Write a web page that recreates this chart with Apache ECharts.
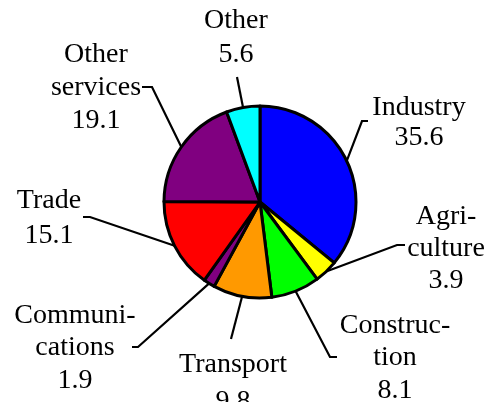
<!DOCTYPE html>
<html lang="en">
<head>
    <meta charset="UTF-8">
    <title>Sectors pie</title>
    <style type="text/css">
        html, body { margin: 0; padding: 0; background: #fff; }
        #main { height: 402px; width: 494px; }
    </style>
    <script src="https://cdn.jsdelivr.net/npm/echarts@6/dist/echarts.min.js"></script>
</head>
<body>
    <div id="main"></div>
    <script type="text/javascript">
        // sectors, clockwise from 12 o'clock
        var sectors = ['Industry', 'Agri-\nculture', 'Construc-\ntion', 'Transport', 'Communi-\ncations', 'Trade', 'Other\nservices', 'Other'];
        var shares = [35.6, 3.9, 8.1, 9.8, 1.9, 15.1, 19.1, 5.6];
        var colors = ['#0000ff', '#ffff00', '#00ff00', '#ff9900', '#800080', '#ff0000', '#800080', '#00ffff'];

        // label block centre, line height and leader bends (pixel layout)
        var labelPos = [
            { x: 419, y: 122.5, lh: 30.6, line: [[362, 121], [368, 121]] },
            { x: 446, y: 248.5, lh: 32.2, line: [[397, 245], [405, 245]] },
            { x: 395, y: 358, lh: 32.5, line: [[330, 357], [337, 357]] },
            { x: 233, y: 383, lh: 37.4, line: [[231, 339]] },
            { x: 75, y: 348, lh: 32.5, line: [[138, 347], [132, 347]] },
            { x: 49, y: 218, lh: 34.4, line: [[90, 217], [83, 217]] },
            { x: 96, y: 88, lh: 33, line: [[152, 87], [142, 87]] },
            { x: 236, y: 37.5, lh: 34.4, line: [[237, 77]] }
        ];

        var myChart = echarts.init(document.getElementById('main'));
        var option = {
            animation: false,
            series: [{
                type: 'pie',
                center: [260, 202],
                radius: 96,
                startAngle: 90,
                clockwise: true,
                avoidLabelOverlap: false,
                itemStyle: { borderColor: '#000', borderWidth: 3 },
                emphasis: { disabled: true },
                label: {
                    show: true,
                    position: 'outside',
                    color: '#000',
                    fontFamily: '"Liberation Serif", "Times New Roman", serif',
                    fontSize: 28,
                    lineHeight: 33,
                    align: 'center',
                    formatter: function (p) { return p.name + '\n' + p.value; }
                },
                labelLine: {
                    show: true,
                    length: 20,
                    length2: 10,
                    smooth: false,
                    lineStyle: { color: '#000', width: 2.2 }
                },
                labelLayout: function (params) {
                    var pos = labelPos[params.dataIndex];
                    var res = { x: pos.x, y: pos.y, align: 'center', verticalAlign: 'middle' };
                    if (params.labelLinePoints) {
                        res.labelLinePoints = [params.labelLinePoints[0]].concat(pos.line);
                    }
                    return res;
                },
                data: sectors.map(function (s, i) {
                    return {
                        name: s,
                        value: shares[i],
                        itemStyle: { color: colors[i] },
                        label: { lineHeight: labelPos[i].lh }
                    };
                })
            }]
        };
        myChart.setOption(option);
    </script>
</body>
</html>
